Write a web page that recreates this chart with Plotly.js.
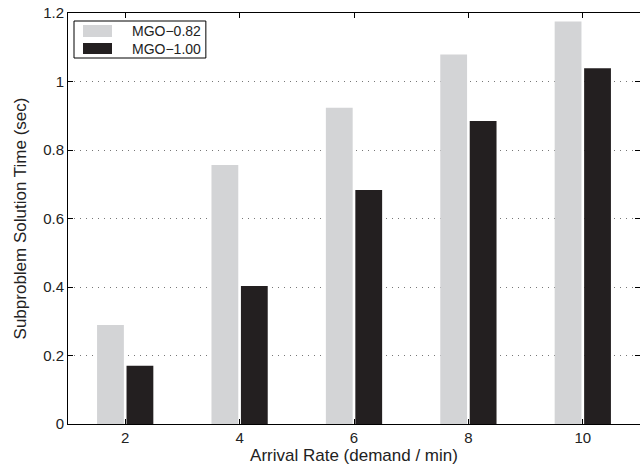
<!DOCTYPE html>
<html>
<head>
<meta charset="utf-8">
<script src="https://cdn.plot.ly/plotly-3.0.1.min.js"></script>
<style>html,body{margin:0;padding:0;background:#fff;}#chart{width:640px;height:473px;}</style>
</head>
<body>
<div id="chart"></div>
<script>
const arrivalRates = [2, 4, 6, 8, 10];
const mgo082 = [0.289, 0.756, 0.923, 1.079, 1.175];
const mgo100 = [0.170, 0.403, 0.683, 0.885, 1.039];
const seriesNames = ['MGO\u22120.82', 'MGO\u22121.00'];
const tickVals = [0, 0.2, 0.4, 0.6, 0.8, 1, 1.2];

const font = 'Liberation Sans, Arial, Helvetica, sans-serif';
const colors = ['#d3d4d6', '#231f20'];
const traces = [
  {type: 'bar', x: arrivalRates, y: mgo082, name: seriesNames[0],
   marker: {color: colors[0], line: {width: 0}}},
  {type: 'bar', x: arrivalRates, y: mgo100, name: seriesNames[1],
   marker: {color: colors[1], line: {width: 0}}}
];

// custom legend box (MATLAB style wide swatches)
const shapes = [
  {type: 'rect', xref: 'paper', yref: 'paper', x0: 0.0105, x1: 0.241, y0: 0.8905, y1: 0.9805,
   line: {color: '#000', width: 1}, fillcolor: '#fff', layer: 'above'},
  {type: 'rect', xref: 'paper', yref: 'paper', x0: 0.0262, x1: 0.0769, y0: 0.9416, y1: 0.9708,
   line: {width: 0}, fillcolor: colors[0], layer: 'above'},
  {type: 'rect', xref: 'paper', yref: 'paper', x0: 0.0262, x1: 0.0769, y0: 0.9002, y1: 0.927,
   line: {width: 0}, fillcolor: colors[1], layer: 'above'}
];
const annotations = [
  {xref: 'paper', yref: 'paper', x: 0.108, y: 0.956, xanchor: 'left', yanchor: 'middle',
   text: seriesNames[0], showarrow: false, font: {family: font, size: 14, color: '#222'}},
  {xref: 'paper', yref: 'paper', x: 0.108, y: 0.9136, xanchor: 'left', yanchor: 'middle',
   text: seriesNames[1], showarrow: false, font: {family: font, size: 14, color: '#222'}}
];

const layout = {
  width: 640, height: 473,
  margin: {l: 68, r: 0, t: 13, b: 49, pad: 0},
  paper_bgcolor: '#fff', plot_bgcolor: '#fff',
  font: {family: font, size: 14, color: '#222'},
  barmode: 'group', bargap: 0.485, bargroupgap: 0.09,
  showlegend: false,
  shapes: shapes, annotations: annotations,
  xaxis: {range: [1, 11], tickvals: arrivalRates, ticktext: arrivalRates.map(String),
          ticks: 'inside', ticklen: 5, tickcolor: '#000', showline: true, linecolor: '#000',
          linewidth: 1, mirror: 'ticks', showgrid: false, zeroline: false, automargin: false,
          tickfont: {size: 15, family: font, color: '#222'},
          title: {text: 'Arrival Rate (demand / min)', font: {size: 17, family: font, color: '#222'}, standoff: 4}},
  yaxis: {range: [0, 1.2], tickvals: tickVals, ticktext: tickVals.map(String),
          ticks: 'inside', ticklen: 5, tickcolor: '#000', showline: true, linecolor: '#000',
          linewidth: 1, mirror: 'ticks', showgrid: true, gridcolor: '#777', griddash: '1px,5px',
          gridwidth: 1, zeroline: false, automargin: false,
          tickfont: {size: 15, family: font, color: '#222'},
          title: {text: 'Subproblem Solution Time (sec)', font: {size: 17, family: font, color: '#222'}, standoff: 12}}
};
Plotly.newPlot('chart', traces, layout, {displayModeBar: false, staticPlot: true});
</script>
</body>
</html>
